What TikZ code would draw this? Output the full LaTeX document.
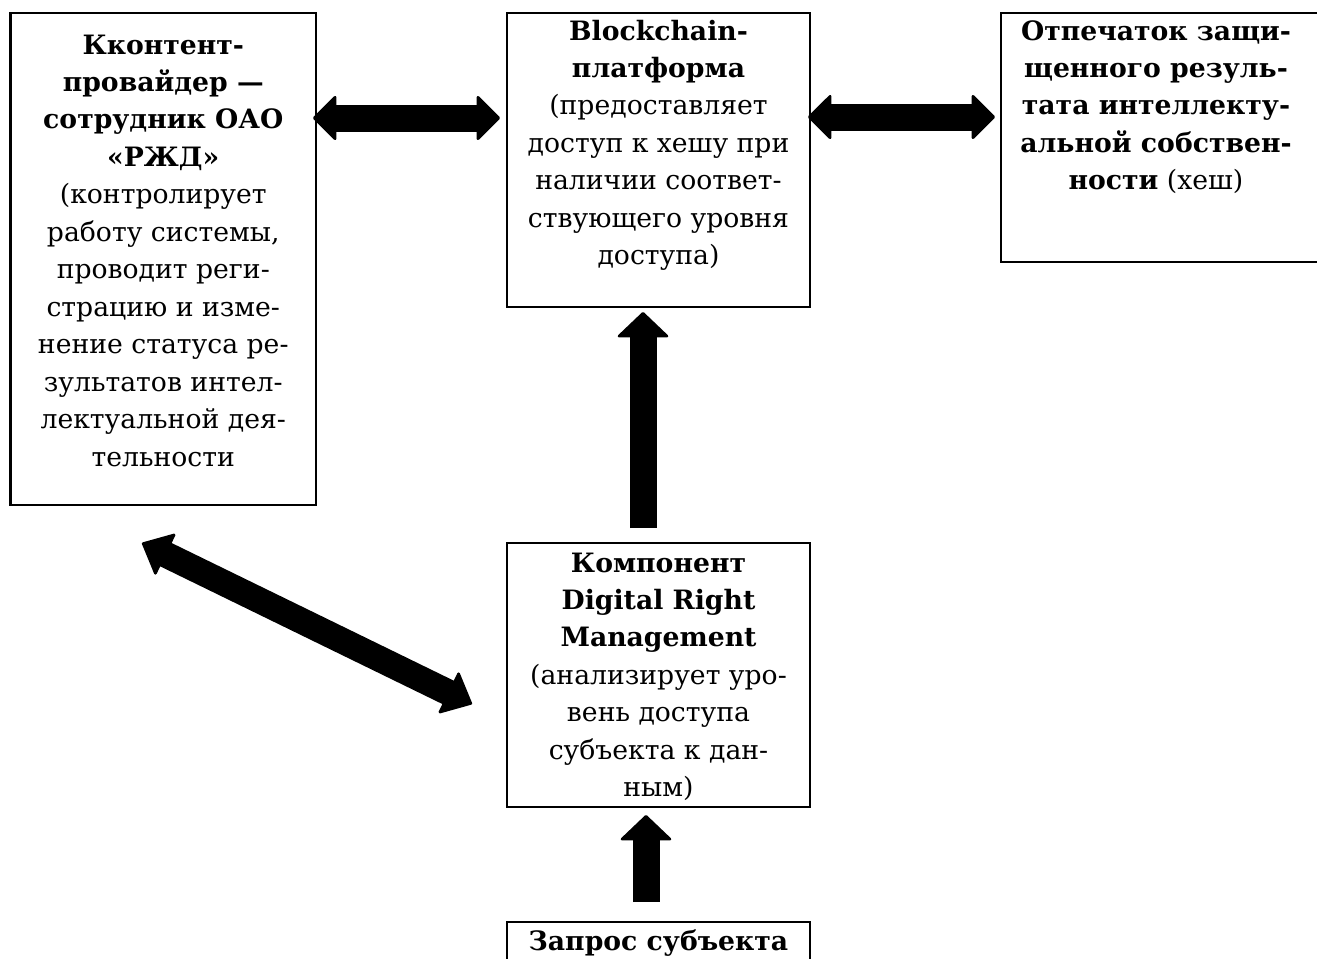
\documentclass[tikz,border=0pt]{standalone}
\usepackage{fontspec}
\setmainfont{DejaVu Serif}
\usetikzlibrary{arrows.meta,calc}

\begin{document}
\begin{tikzpicture}[x=0.75pt,y=-0.75pt,
  box/.style={draw, line width=1.8pt, rectangle, inner sep=0pt, outer sep=0pt},
  txt/.style={align=center, inner sep=0pt, outer sep=0pt, anchor=north,
              font=\fontsize{20}{28.1}\selectfont},
  harrow/.style={line width=20.25pt, {Triangle[width=35.5pt,length=18pt,line width=2pt,round]}-{Triangle[width=35.5pt,length=18pt,line width=2pt,round]}},
  varrow/.style={line width=20.25pt, -{Triangle[width=40.5pt,length=19.5pt,line width=2pt,round]}},
  darrow/.style={line width=19.5pt, {Triangle[width=36pt,length=20.5pt,line width=2pt,round]}-{Triangle[width=36pt,length=20.5pt,line width=2pt,round]}}
]
\useasboundingbox (0,0) rectangle (1317,958);
\fill[white] (0,0) rectangle (1317,958);

% boxes
\node[box, minimum width=305.5*0.75pt, minimum height=492*0.75pt] (L) at (163.25,259) {};
\node[box, minimum width=303*0.75pt, minimum height=294*0.75pt] (M) at (658.5,160) {};
\node[box, minimum width=329*0.75pt, minimum height=249*0.75pt] (R) at (1165.5,137.5) {};
\node[box, minimum width=303*0.75pt, minimum height=264*0.75pt] (D) at (658.5,675) {};
\node[box, minimum width=303*0.75pt, minimum height=78*0.75pt] (Q) at (658.5,961) {};

% texts
\node[txt] (Lt) at ($(L.north)+(0,19.7)$) {\rule{0pt}{16pt}\textbf{Кконтент-}\\
\textbf{провайдер —}\\ \textbf{сотрудник ОАО}\\ \textbf{«РЖД»}\\ (контролирует\\
работу системы,\\ проводит реги-\\ страцию и изме-\\ нение статуса ре-\\
зультатов интел-\\ лектуальной дея-\\ тельности};

\node[txt] (Mt) at ($(M.north)+(0,5.7)$) {\rule{0pt}{16pt}\textbf{Blockchain-}\\
\textbf{платформа}\\ (предоставляет\\ доступ к хешу при\\ наличии соответ-\\
ствующего уровня\\ доступа)};

\node[txt] (Rt) at ($(R.north west)+(155,5.7)$) {\rule{0pt}{16pt}\textbf{Отпечаток защи-}\\
\textbf{щенного резуль-}\\ \textbf{тата интеллекту-}\\ \textbf{альной собствен-}\\
\textbf{ности} (хеш)};

\node[txt] (Dt) at ($(D.north)+(0,7.7)$) {\rule{0pt}{16pt}\textbf{Компонент}\\
\textbf{Digital Right}\\ \textbf{Management}\\ (анализирует уро-\\ вень доступа\\
субъекта к дан-\\ ным)};

\node[txt] (Qt) at ($(Q.north)+(0,6.7)$) {\rule{0pt}{16pt}\textbf{Запрос субъекта}};

% connectors
\draw[harrow] ($(L.north east)+(-3,105)$) -- ($(M.north west)+(-7,105)$);
\draw[harrow] ($(M.north east)+(-2,104)$) -- ($(R.north west)+(-6,104)$);
\draw[varrow] ($(D.north)+(-15.5,-15)$) -- ($(M.south)+(-15.5,5)$);
\draw[varrow] ($(Q.north)+(-12.5,-20)$) -- ($(D.south)+(-12.5,8)$);
\draw[darrow] ($(L.south west)+(131.5,38)$) -- ($(D.west)+(-35,29)$);
\end{tikzpicture}
\end{document}
